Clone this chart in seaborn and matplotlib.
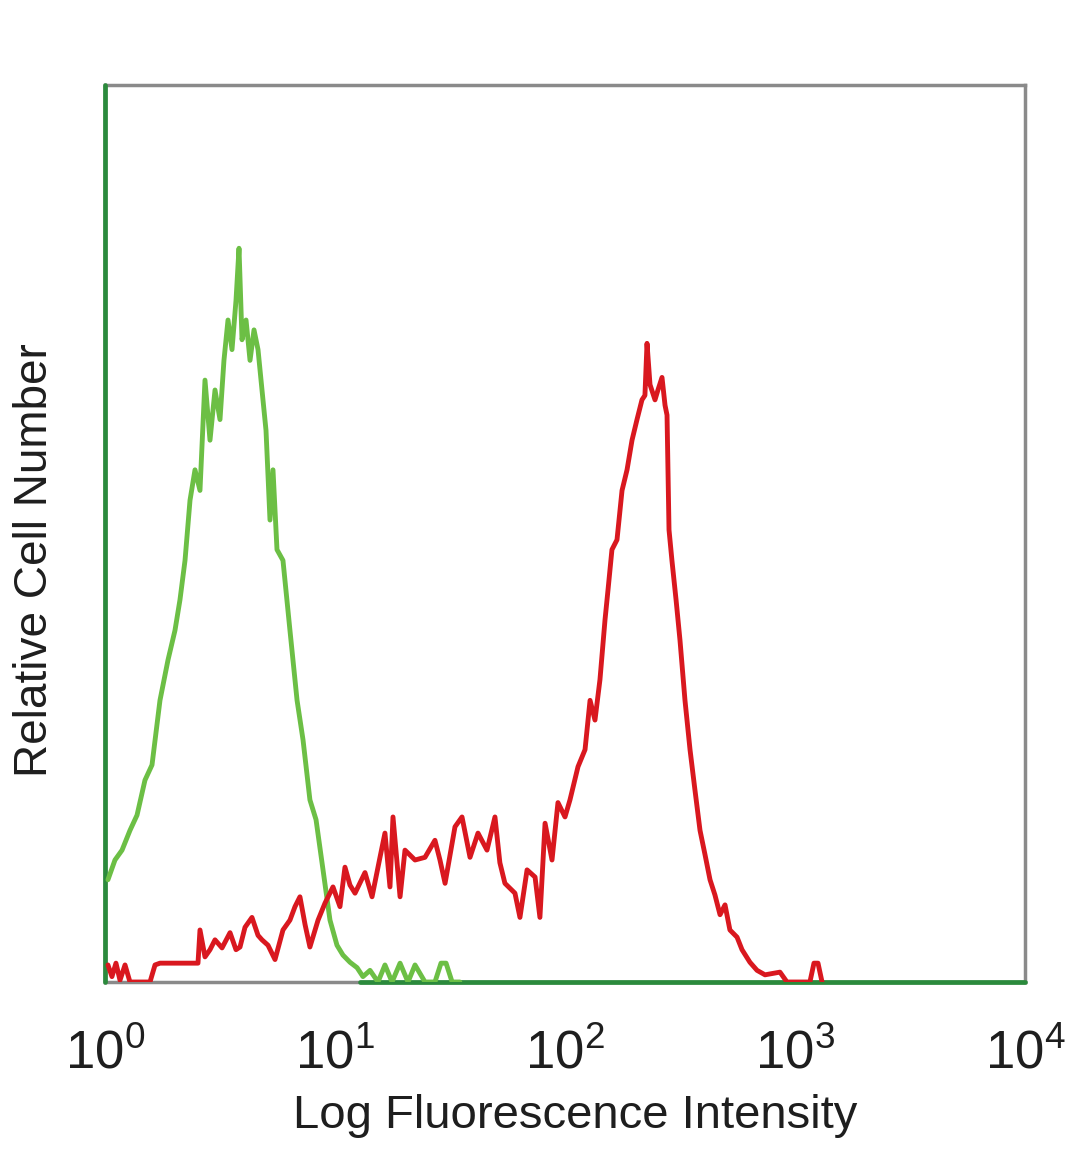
import numpy as np
import pandas as pd
import matplotlib
matplotlib.use("Agg")
import matplotlib.pyplot as plt
from matplotlib import font_manager
import seaborn as sns

# ---------------- data ----------------
green_intensity = [1.03, 1.105, 1.186, 1.284, 1.378, 1.492, 1.601, 1.734, 1.879, 2.015,
                   2.118, 2.228, 2.342, 2.462, 2.588, 2.721, 2.861, 3.008, 3.162, 3.29,
                   3.426, 3.566, 3.712, 3.825, 3.942, 4.104, 4.271, 4.445, 4.627, 4.815,
                   5.012, 5.216, 5.375, 5.595, 5.94, 6.37, 6.84, 7.26, 7.78, 8.27,
                   8.87, 9.51, 10.2, 10.83, 11.62, 12.47, 13.23, 14.2, 15.38, 16.49,
                   17.7, 19.18, 20.77, 22.28, 24.62, 27.2, 28.9, 30.4, 32.3, 34.9]
green_count = [11.4, 13.6, 14.7, 16.9, 18.6, 22.5, 24.2, 31.4, 35.9, 39.2,
               42.6, 47.0, 53.7, 57.1, 54.8, 67.1, 60.4, 66.0, 62.7, 69.3,
               73.8, 70.5, 76.0, 81.8, 71.6, 73.8, 69.3, 72.7, 70.5, 66.0,
               61.5, 51.5, 57.1, 48.2, 47.0, 39.2, 31.4, 27.0, 20.3, 18.1,
               12.5, 6.9, 4.1, 3.0, 2.2, 1.6, 0.6, 1.3, 0.0, 1.9,
               0.0, 2.1, 0.0, 1.9, 0.0, 0.0, 2.1, 2.1, 0.0, 0.0]

red_intensity = [1.03, 1.072, 1.116, 1.162, 1.222, 1.284, 1.42, 1.569, 1.65, 1.734,
                 2.118, 2.537, 2.588, 2.721, 2.861, 3.008, 3.227, 3.496, 3.712, 3.864,
                 4.062, 4.355, 4.627, 4.815, 5.113, 5.485, 5.94, 6.37, 6.70, 7.04,
                 7.41, 7.78, 8.44, 9.05, 9.80, 10.51, 11.05, 11.62, 12.22, 13.50,
                 14.49, 15.69, 16.49, 17.34, 17.87, 19.18, 20.15, 22.28, 24.62, 27.2,
                 28.6, 30.1, 33.24, 35.66, 38.64, 41.85, 45.8, 49.6, 52.1, 54.8,
                 60.6, 63.7, 68.4, 74.1, 77.8, 81.9, 87.8, 93.2, 100.0, 105.1,
                 113.9, 122.2, 128.5, 135.0, 141.9, 149.3, 153.8, 160.0, 168.3, 177.0,
                 186.1, 195.6, 205.6, 216.1, 222.6, 227.3, 234.2, 246.2, 253.6, 264.1,
                 272.2, 277.7, 283.3, 291.7, 304.0, 316.2, 332.4, 349.6, 367.3, 386.4,
                 406.2, 427.1, 448.7, 472.1, 496.3, 521.2, 559.8, 588.4, 636.8, 683.8,
                 740.6, 860.4, 922.6, 1161, 1209, 1259, 1311]
red_count = [1.9, 0.6, 2.1, 0.2, 1.9, 0.0, 0.0, 0.0, 1.9, 2.1,
             2.1, 2.1, 5.8, 2.8, 3.6, 4.7, 3.8, 5.5, 3.6, 3.9,
             6.1, 7.2, 5.2, 4.7, 4.1, 2.5, 5.8, 6.9, 8.4, 9.5,
             6.4, 3.9, 6.9, 8.8, 10.6, 8.4, 12.8, 10.8, 9.9, 12.2,
             9.5, 13.9, 16.6, 10.6, 18.4, 9.5, 14.7, 13.6, 13.9, 15.8,
             13.6, 11.0, 17.3, 18.4, 13.9, 16.6, 14.7, 18.4, 13.3, 11.0,
             9.9, 7.2, 12.5, 11.7, 7.2, 17.7, 13.6, 20.0, 18.4, 20.3,
             24.0, 25.9, 31.4, 29.2, 33.7, 40.4, 43.7, 48.2, 49.3, 54.8,
             57.1, 60.4, 62.7, 64.9, 65.4, 71.2, 66.6, 64.9, 66.0, 67.4,
             64.3, 63.2, 50.4, 47.0, 42.6, 38.1, 31.4, 25.9, 21.4, 16.9,
             14.2, 11.4, 9.7, 7.5, 8.6, 5.8, 5.0, 3.6, 2.2, 1.3,
             0.8, 1.1, 0.0, 0.0, 2.1, 2.1, 0.0]

# control trace: first channel off scale, zero from ~12.8 on
control_intensity = [1.0, 1.0, 12.8, 10000.0]
control_count = [0.0, 100.0, 0.0, 0.0]
control_segment = [0, 0, 1, 1]

x_ticks = [1, 10, 100, 1000, 10000]
x_tick_labels = [r"$\mathregular{10^{0}}$", r"$\mathregular{10^{1}}$", r"$\mathregular{10^{2}}$",
                 r"$\mathregular{10^{3}}$", r"$\mathregular{10^{4}}$"]
x_label = "Log Fluorescence Intensity"
y_label = "Relative Cell Number"

# ---------------- style ----------------
sns.set_theme(style="white")
installed = {f.name for f in font_manager.fontManager.ttflist}
family = "DejaVu Sans"
for cand in ["Liberation Sans Narrow", "Liberation Sans", "Open Sans"]:
    if cand in installed:
        family = cand
        break
plt.rcParams["font.family"] = [family, "DejaVu Sans"]
plt.rcParams["mathtext.fontset"] = "custom"
plt.rcParams["mathtext.rm"] = family

GREEN = "#6cbf45"
RED = "#d9181f"
DARK_GREEN = "#2b8a3c"
FRAME = "#8a8a8a"
TEXT = "#1e1e1e"

fig = plt.figure(figsize=(10.8, 11.69), dpi=100)
ax = fig.add_axes([105 / 1080, 1 - 982 / 1169, 920 / 1080, 897 / 1169])

ctrl = pd.DataFrame({"x": control_intensity, "y": control_count, "seg": control_segment})
for s, sub in ctrl.groupby("seg"):
    sns.lineplot(data=sub, x="x", y="y", ax=ax, color=DARK_GREEN, lw=3.4,
                 estimator=None, sort=False, zorder=3, clip_on=False)

gdf = pd.DataFrame({"x": green_intensity, "y": green_count})
sns.lineplot(data=gdf, x="x", y="y", ax=ax, color=GREEN, lw=3.5,
             estimator=None, sort=False, zorder=4)
rdf = pd.DataFrame({"x": red_intensity, "y": red_count})
sns.lineplot(data=rdf, x="x", y="y", ax=ax, color=RED, lw=3.5,
             estimator=None, sort=False, zorder=5)

ax.set_xscale("log")
ax.set_xlim(1, 10000)
ax.set_ylim(0, 100)
ax.set_xticks(x_ticks)
ax.set_xticklabels(x_tick_labels, fontsize=38)
ax.minorticks_off()
ax.set_yticks([])
ax.tick_params(axis="x", length=0, pad=34, colors=TEXT)
ax.set_xlabel(x_label, fontsize=34, color=TEXT, labelpad=12)
ax.xaxis.set_label_coords((575 - 105) / 920, -0.125)
ax.set_ylabel("")
for sp in ax.spines.values():
    sp.set_color(FRAME)
    sp.set_linewidth(2.5)
    sp.set_visible(True)

fig.text(35 / 1080, 1 - 560 / 1169, y_label, rotation=90, fontsize=33,
         color=TEXT, ha="center", va="center")

fig.savefig("out.png", dpi=100)
